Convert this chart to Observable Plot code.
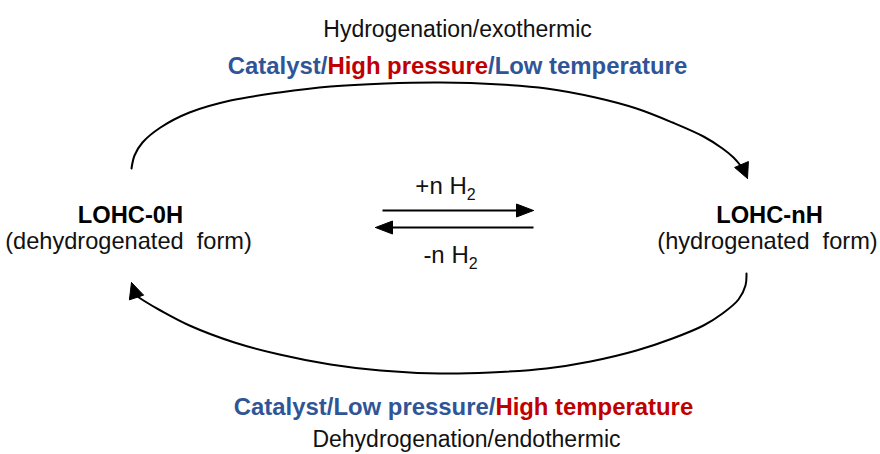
<!DOCTYPE html>
<html><head><meta charset="utf-8">
<script src="https://cdn.jsdelivr.net/npm/d3@7"></script>
<script src="https://cdn.jsdelivr.net/npm/@observablehq/plot@0.6"></script>
<style>html,body{margin:0;padding:0;background:#fff}#chart svg{display:block}</style>
</head><body><div id="chart"></div>
<script>
// ---- content ----
const BLUE = "#2F5597", RED = "#C00000";
const nodeNames = ["LOHC-0H", "LOHC-nH"];
const nodeForms = ["(dehydrogenated  form)", "(hydrogenated  form)"];
const reactionTitles = ["Hydrogenation/exothermic", "Dehydrogenation/endothermic"];
const conditionTop = [["Catalyst/", BLUE], ["High pressure", RED], ["/Low temperature", BLUE]];
const conditionBottom = [["Catalyst/", BLUE], ["Low pressure/", BLUE], ["High temperature", RED]];
const h2Labels = ["+n H2", "-n H2"];

// ---- layout (diagram coordinates, px, y downward) ----
const nodeX = [130, 769];
const nameBaseline = 222, formBaseline = 248;
const titleX = [457, 466], titleBaseline = [36, 446];
const condX = [457, 463], condBaseline = [73, 414];
const h2X = [445, 450], h2Baseline = [193, 262];

const arcTop = [[131,168],[134,155],[142,142],[160,127],[189,112],[230,100],[279,92],[330,86],[385,83],[440,82],[500,84],[546,88],[595,97],[636,108],[672,122],[703,136],[722,148],[733,157],[740,165]];
const arcBottom = [[746,273],[745,285],[738,299],[722,313],[703,325],[672,338],[636,350],[590,361],[546,368],[490,372],[439,373],[380,370],[330,364],[279,354],[234,342],[189,325],[160,310],[143,300],[137,296]];
// straight arrows: [x1, x2(tip), y]
const straight = [[382, 533, 210], [533, 375, 227]];
// arrowheads: tip and base centre, half width
const heads = [
  {tip:[747,178], base:[741,164], half:7.5},
  {tip:[131,282], base:[136,297], half:7.5},
  {tip:[533,210], base:[516,210], half:6.5},
  {tip:[375,227], base:[392,227], half:6.5}
];

// ---- build tables ----
const arcs = [
  ...arcTop.map(([x,y]) => ({id:"top", x, y})),
  ...arcBottom.map(([x,y]) => ({id:"bottom", x, y}))
];
const shafts = straight.map(([a,b,y], i) => ({x1:a, x2:heads[i+2].base[0], y}));
const headPolys = heads.flatMap((h, i) => {
  const dx = h.tip[0]-h.base[0], dy = h.tip[1]-h.base[1];
  const L = Math.hypot(dx, dy), nx = -dy/L, ny = dx/L;
  const pts = [h.tip, [h.base[0]+nx*h.half, h.base[1]+ny*h.half], [h.base[0]-nx*h.half, h.base[1]-ny*h.half], h.tip];
  return pts.map(([x,y]) => ({id:i, x, y}));
});
const names = nodeNames.map((t,i) => ({t, x:nodeX[i], y:nameBaseline}));
const forms = nodeForms.map((t,i) => ({t, x:nodeX[i]-2, y:formBaseline}));
const titles = reactionTitles.map((t,i) => ({t, x:titleX[i], y:titleBaseline[i]}));
const conds = [conditionTop, conditionBottom].map((segs,i) => ({t:segs.map(s=>s[0]).join(""), segs, x:condX[i], y:condBaseline[i]}));
const h2 = h2Labels.map((t,i) => ({t, x:h2X[i], y:h2Baseline[i]}));

const FONT = "'Liberation Sans', Arial, sans-serif";
const svg = Plot.plot({
  width: 880, height: 454,
  margin: 0,
  x: {domain:[0,880], range:[0,880], axis:null},
  y: {domain:[0,454], range:[0,454], axis:null},
  style: {fontFamily: FONT, background:"#fff", color:"#000"},
  marks: [
    Plot.line(arcs, {x:"x", y:"y", z:"id", curve:"catmull-rom", stroke:"#000", strokeWidth:2}),
    Plot.link(shafts, {x1:"x1", x2:"x2", y1:"y", y2:"y", stroke:"#000", strokeWidth:2}),
    Plot.line(headPolys, {x:"x", y:"y", z:"id", fill:"#000", stroke:"#000", strokeWidth:1, curve:"linear"}),
    Plot.text(titles, {x:"x", y:"y", text:"t", fontSize:23, lineAnchor:"bottom", fill:"#111"}),
    Plot.text(conds, {x:"x", y:"y", text:"t", fontSize:23.9, fontWeight:"bold", lineAnchor:"bottom", fill:BLUE}),
    Plot.text(names, {x:"x", y:"y", text:"t", fontSize:23.7, fontWeight:"bold", lineAnchor:"bottom", fill:"#000"}),
    Plot.text(forms, {x:"x", y:"y", text:"t", fontSize:23.6, lineAnchor:"bottom", fill:"#111"}),
    Plot.text(h2, {x:"x", y:"y", text:"t", fontSize:24, lineAnchor:"bottom", fill:"#111"})
  ]
});
// rich text: coloured segments and subscripts
d3.select(svg).selectAll("text").each(function() {
  const el = d3.select(this), s = this.textContent;
  const c = conds.find(d => d.t === s);
  if (c) {
    el.text(null);
    c.segs.forEach(([t, col]) => el.append("tspan").attr("fill", col).text(t));
  } else if (h2Labels.includes(s)) {
    el.text(null);
    el.append("tspan").text(s.slice(0, -1));
    el.append("tspan").attr("dy", 6).attr("font-size", 16).text(s.slice(-1));
  }
});
d3.select(svg).selectAll("text").style("white-space", "pre");
document.getElementById("chart").appendChild(svg);
</script>
</body></html>
